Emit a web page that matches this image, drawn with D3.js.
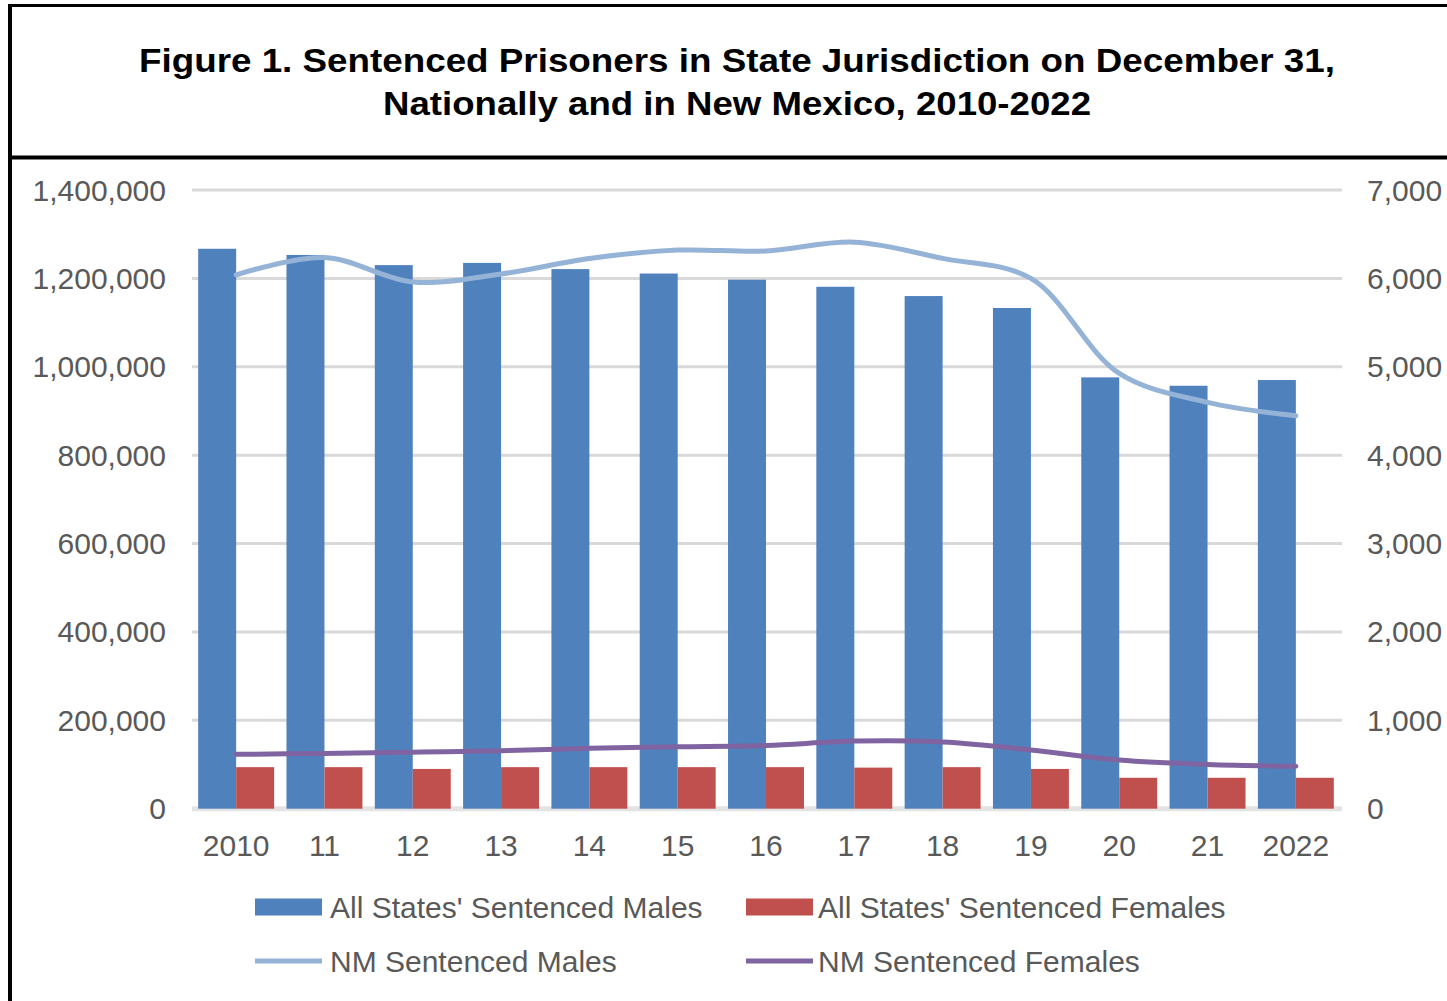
<!DOCTYPE html>
<html>
<head>
<meta charset="utf-8">
<script src="https://cdn.jsdelivr.net/npm/d3@7"></script>
<style>
  html, body { margin: 0; padding: 0; background: #ffffff; }
  svg { display: block; }
  text { font-family: "Liberation Sans", Arial, sans-serif; }
</style>
</head>
<body>
<svg id="chart" width="1447" height="1001"></svg>
<script>
// ---- Data ----
const years = ["2010", "11", "12", "13", "14", "15", "16", "17", "18", "19", "20", "21", "2022"];
const statesMales = [1267000, 1253000, 1230000, 1235000, 1221000, 1211000, 1197000, 1181000, 1160000, 1133000, 976000, 957000, 970000];
const statesFemales = [94000, 94000, 90000, 94000, 94000, 94000, 94000, 93000, 94000, 90000, 70000, 70000, 70000];
const nmMales = [6040, 6235, 5960, 6050, 6225, 6320, 6310, 6410, 6226, 6000, 4925, 4597, 4446];
const nmFemales = [615, 625, 640, 655, 685, 700, 715, 765, 755, 665, 550, 500, 480];
const leftTicks = [0, 200000, 400000, 600000, 800000, 1000000, 1200000, 1400000];
const rightTicks = [0, 1000, 2000, 3000, 4000, 5000, 6000, 7000];
const titleLines = ["Figure 1. Sentenced Prisoners in State Jurisdiction on December 31,",
                    "Nationally and in New Mexico, 2010-2022"];
const legendItems = [
  { label: "All States' Sentenced Males", type: "bar", color: "#4F81BD" },
  { label: "All States' Sentenced Females", type: "bar", color: "#C0504D" },
  { label: "NM Sentenced Males", type: "line", color: "#95B3D7" },
  { label: "NM Sentenced Females", type: "line", color: "#8064A2" }
];

const svg = d3.select("#chart");

// ---- Frame ----
svg.append("line").attr("x1", 10).attr("x2", 10).attr("y1", 4).attr("y2", 1001)
  .attr("stroke", "#000").attr("stroke-width", 4);
svg.append("line").attr("x1", 8).attr("x2", 1447).attr("y1", 5.5).attr("y2", 5.5)
  .attr("stroke", "#000").attr("stroke-width", 3);
svg.append("line").attr("x1", 8).attr("x2", 1447).attr("y1", 157.5).attr("y2", 157.5)
  .attr("stroke", "#000").attr("stroke-width", 4);

// ---- Title ----
const titleWidths = [1196, 708];
const titleY = [72, 115];
titleLines.forEach((t, i) => {
  svg.append("text")
    .attr("x", 737).attr("y", titleY[i])
    .attr("text-anchor", "middle")
    .attr("font-size", 34).attr("font-weight", "bold").attr("fill", "#000")
    .attr("textLength", titleWidths[i]).attr("lengthAdjust", "spacingAndGlyphs")
    .text(t);
});

// ---- Scales ----
const x = d3.scaleBand().domain(years).range([192, 1340]).paddingInner(0.14).paddingOuter(0.07);
const x1 = d3.scaleBand().domain(["m", "f"]).range([0, x.bandwidth()]);
const yL = d3.scaleLinear().domain([0, 1400000]).range([808.7, 190]);
const yR = d3.scaleLinear().domain([0, 7000]).range([808.7, 190]);

// ---- Gridlines ----
svg.append("g").selectAll("line").data(leftTicks).join("line")
  .attr("x1", 192).attr("x2", 1342)
  .attr("y1", d => yL(d)).attr("y2", d => yL(d))
  .attr("stroke", d => d === 0 ? "#E3E3E3" : "#D9D9D9")
  .attr("stroke-width", d => d === 0 ? 5 : 3);

// ---- Bars ----
const g = svg.append("g");
g.selectAll("rect.m").data(statesMales).join("rect").attr("class", "m")
  .attr("x", (d, i) => x(years[i]) + x1("m"))
  .attr("width", x1.bandwidth())
  .attr("y", d => yL(d))
  .attr("height", d => yL(0) - yL(d))
  .attr("fill", "#4F81BD");
g.selectAll("rect.f").data(statesFemales).join("rect").attr("class", "f")
  .attr("x", (d, i) => x(years[i]) + x1("f"))
  .attr("width", x1.bandwidth())
  .attr("y", d => yL(d))
  .attr("height", d => yL(0) - yL(d))
  .attr("fill", "#C0504D");

// ---- Lines ----
const cx = i => x(years[i]) + x.bandwidth() / 2;
const lineGen = d3.line().x((d, i) => cx(i)).y(d => yR(d)).curve(d3.curveCatmullRom.alpha(0.5));
svg.append("path").datum(nmMales).attr("d", lineGen)
  .attr("fill", "none").attr("stroke", "#95B3D7").attr("stroke-width", 5)
  .attr("stroke-linecap", "round").attr("stroke-linejoin", "round");
svg.append("path").datum(nmFemales).attr("d", lineGen)
  .attr("fill", "none").attr("stroke", "#8064A2").attr("stroke-width", 5)
  .attr("stroke-linecap", "round").attr("stroke-linejoin", "round");

// ---- Axes labels ----
const fmt = d3.format(",");
svg.append("g").selectAll("text").data(leftTicks).join("text")
  .attr("x", 166).attr("y", d => yL(d))
  .attr("text-anchor", "end").attr("dominant-baseline", "central")
  .attr("font-size", 30).attr("fill", "#595959")
  .text(d => fmt(d));
svg.append("g").selectAll("text").data(rightTicks).join("text")
  .attr("x", 1367).attr("y", d => yR(d))
  .attr("text-anchor", "start").attr("dominant-baseline", "central")
  .attr("font-size", 30).attr("fill", "#595959")
  .text(d => fmt(d));
svg.append("g").selectAll("text").data(years).join("text")
  .attr("x", d => x(d) + x.bandwidth() / 2).attr("y", 845)
  .attr("text-anchor", "middle").attr("dominant-baseline", "central")
  .attr("font-size", 30).attr("fill", "#595959")
  .text(d => d);

// ---- Legend ----
const legPos = [
  { sx: 255, tx: 330, y: 907 },
  { sx: 746, tx: 818, y: 907 },
  { sx: 255, tx: 330, y: 961 },
  { sx: 746, tx: 818, y: 961 }
];
legendItems.forEach((item, i) => {
  const p = legPos[i];
  if (item.type === "bar") {
    svg.append("rect").attr("x", p.sx).attr("y", p.y - 8.5).attr("width", 67).attr("height", 17)
      .attr("fill", item.color);
  } else {
    svg.append("line").attr("x1", p.sx).attr("x2", p.sx + 67).attr("y1", p.y).attr("y2", p.y)
      .attr("stroke", item.color).attr("stroke-width", 5);
  }
  svg.append("text").attr("x", p.tx).attr("y", p.y)
    .attr("dominant-baseline", "central")
    .attr("font-size", 30).attr("fill", "#595959")
    .text(item.label);
});
</script>
</body>
</html>
